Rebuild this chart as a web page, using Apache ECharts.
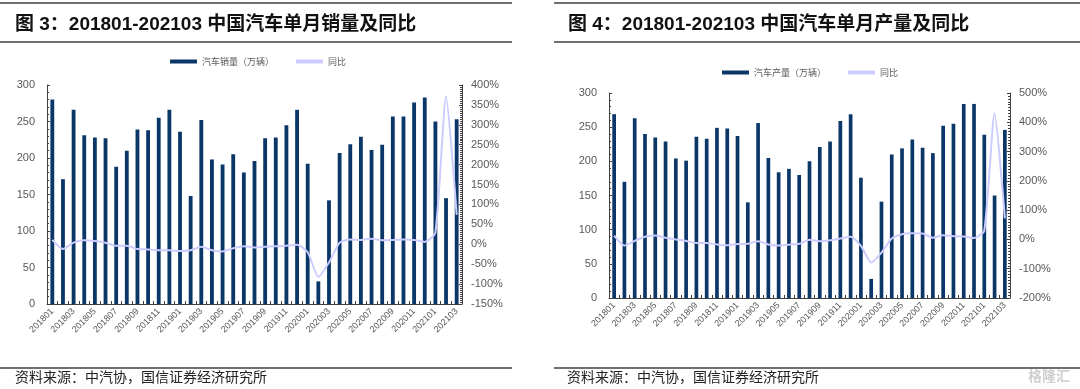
<!DOCTYPE html>
<html><head><meta charset="utf-8">
<script src="https://cdn.jsdelivr.net/npm/echarts@6/dist/echarts.min.js"></script>
<style>html,body{margin:0;padding:0;background:#fff}#c{width:1080px;height:389px}</style>
</head><body><div id="c"></div>
<script>
const categories = ['201801','201802','201803','201804','201805','201806','201807','201808','201809','201810','201811','201812',
'201901','201902','201903','201904','201905','201906','201907','201908','201909','201910','201911','201912',
'202001','202002','202003','202004','202005','202006','202007','202008','202009','202010','202011','202012',
'202101','202102','202103'];
const sales = [280,171,266,231,228,227,188,210,239,238,255,266,236,148,252,198,191,205,180,196,227,228,245,266,192,31,142,207,219,229,211,218,257,257,276,283,250,145,253];
const salesYoy = [11,-12,4,10,8,4,-4,-4,-12,-13,-15,-15,-17,-15,-6,-15,-18,-10,-5,-8,-6,-5,-4,-1,-20,-82,-46,4,12,11,14,10,11,12,11,6,29,371,74];
const prod = [269,170,263,240,235,229,204,201,236,233,249,248,237,140,256,205,184,189,180,200,221,229,259,269,176,28,141,210,219,232,220,212,252,255,284,284,239,150,246];
const prodYoy = [13,-21,-5,9,13,6,0,-5,-12,-12,-17,-20,-16,-15,-6,-17,-21,-18,-15,-1,-6,-3,3,9,-22,-79,-45,3,18,21,20,6,14,11,10,5,30,430,72];
const leftTicks = {min:0,max:300,interval:50};
const right1 = {min:-150,max:400,interval:50};
const right2 = {min:-200,max:500,interval:100};

const AX = '#404040', LB = '#595959';
const FONT = 'Liberation Sans, Arial, Noto Sans CJK SC';
function xAx(gi){
  return {type:'category',gridIndex:gi,data:categories,boundaryGap:true,
    axisLine:{lineStyle:{color:AX,width:1}},
    axisTick:{show:true,inside:true,length:3,interval:0,lineStyle:{color:AX}},
    axisLabel:{interval:1,rotate:45,fontSize:9,color:LB,fontFamily:FONT,margin:6}};
}
function yAx(gi,r,pos,pct,minorSplit){
  return {type:'value',gridIndex:gi,position:pos,min:r.min,max:r.max,interval:r.interval,
    axisLine:{show:true,lineStyle:{color:AX,width:1}},
    axisTick:{show:true,inside:true,length:3,lineStyle:{color:AX}},
    minorTick:{show:true,splitNumber:minorSplit,length:2,lineStyle:{color:AX}},
    splitLine:{show:false},
    axisLabel:{color:LB,fontSize:11,fontFamily:FONT,margin:pos==='left'?12:9,formatter:pct?'{value}%':'{value}'}};
}
const titleStyle = {fontSize:19,fontWeight:'bold',color:'#111',fontFamily:'Liberation Sans, Arial, Noto Sans CJK SC'};
const footStyle = {fontSize:14,fontWeight:'normal',color:'#222',fontFamily:'Noto Sans CJK SC'};
const legendText = {fontSize:9,color:LB,fontFamily:'Noto Sans CJK SC'};
const BAR = '#0b3768', LINE = '#ccccff';

const option = {
  animation:false,
  title:[
    {text:'图 3：201801-202103 中国汽车单月销量及同比',left:15,top:15,padding:0,textStyle:titleStyle},
    {text:'图 4：201801-202103 中国汽车单月产量及同比',left:568,top:15,padding:0,textStyle:titleStyle},
    {text:'资料来源：中汽协，国信证券经济研究所',left:15,top:370,padding:0,textStyle:footStyle},
    {text:'资料来源：中汽协，国信证券经济研究所',left:567,top:370,padding:0,textStyle:footStyle}
  ],
  legend:[
    {left:170,top:57,padding:0,itemWidth:27,itemHeight:4,itemGap:22,textStyle:legendText,
      data:[{name:'汽车销量（万辆）',icon:'rect'},{name:'同比',icon:'rect',itemStyle:{color:LINE}}]},
    {left:722,top:68,padding:0,itemWidth:27,itemHeight:4,itemGap:22,textStyle:legendText,
      data:[{name:'汽车产量（万辆）',icon:'rect'},{name:'同比 ',icon:'rect',itemStyle:{color:LINE}}]}
  ],
  graphic:[
    {type:'line',shape:{x1:0,y1:3,x2:512,y2:3},style:{stroke:'#404040',lineWidth:1.5}},
    {type:'line',shape:{x1:0,y1:42,x2:512,y2:42},style:{stroke:'#404040',lineWidth:1.5}},
    {type:'line',shape:{x1:0,y1:368,x2:512,y2:368},style:{stroke:'#404040',lineWidth:1.5}},
    {type:'line',shape:{x1:554,y1:3,x2:1080,y2:3},style:{stroke:'#404040',lineWidth:1.5}},
    {type:'line',shape:{x1:554,y1:42,x2:1080,y2:42},style:{stroke:'#404040',lineWidth:1.5}},
    {type:'line',shape:{x1:554,y1:368,x2:1080,y2:368},style:{stroke:'#404040',lineWidth:1.5}},
    {type:'text',left:1028,top:369,style:{text:'格隆汇',fontSize:14,fill:'#d0d0d0',fontFamily:'Noto Sans CJK SC',fontWeight:'bold'}}
  ],
  grid:[
    {left:47,right:618,top:85,bottom:85,containLabel:false},
    {left:609,right:70,top:93,bottom:91,containLabel:false}
  ],
  xAxis:[xAx(0),xAx(1)],
  yAxis:[yAx(0,leftTicks,'left',false,5),yAx(0,right1,'right',true,10),yAx(1,leftTicks,'left',false,5),yAx(1,right2,'right',true,10)],
  series:[
    {name:'汽车销量（万辆）',type:'bar',xAxisIndex:0,yAxisIndex:0,data:sales,barWidth:'36%',itemStyle:{color:BAR}},
    {name:'同比',type:'line',xAxisIndex:0,yAxisIndex:1,data:salesYoy,smooth:0.2,symbol:'none',z:5,lineStyle:{color:LINE,width:2},itemStyle:{color:LINE}},
    {name:'汽车产量（万辆）',type:'bar',xAxisIndex:1,yAxisIndex:2,data:prod,barWidth:'36%',itemStyle:{color:BAR}},
    {name:'同比 ',type:'line',xAxisIndex:1,yAxisIndex:3,data:prodYoy,smooth:0.2,symbol:'none',z:5,lineStyle:{color:LINE,width:2},itemStyle:{color:LINE}}
  ]
};
const chart = echarts.init(document.getElementById('c'),null,{renderer:'canvas'});
chart.setOption(option);
</script></body></html>
